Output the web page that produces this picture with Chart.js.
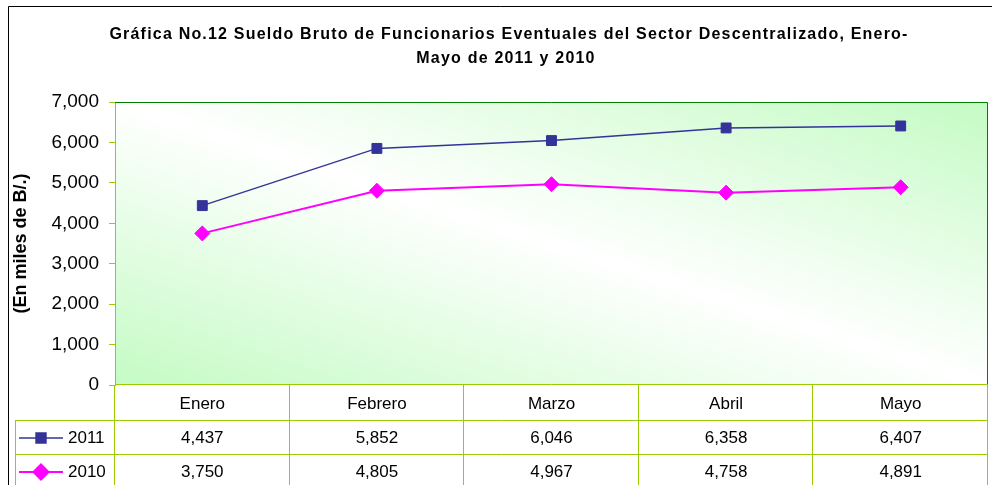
<!DOCTYPE html>
<html>
<head>
<meta charset="utf-8">
<script src="https://cdn.jsdelivr.net/npm/chart.js@4.4.1/dist/chart.umd.min.js"></script>
<style>
  html, body { margin: 0; padding: 0; background: #fff; overflow: hidden; }
  canvas { display: block; }
</style>
</head>
<body>
<canvas id="grafica" width="992" height="485"></canvas>
<script>
const meses = ['Enero', 'Febrero', 'Marzo', 'Abril', 'Mayo'];
const valores2011 = [4437, 5852, 6046, 6358, 6407];
const valores2010 = [3750, 4805, 4967, 4758, 4891];
const ticksY = [0, 1000, 2000, 3000, 4000, 5000, 6000, 7000];
const titulo = ['Gráfica No.12 Sueldo Bruto de Funcionarios Eventuales del Sector Descentralizado, Enero-', 'Mayo de 2011 y 2010'];

const fuente = 'Arial, "Liberation Sans", sans-serif';
Chart.defaults.font.family = fuente;
Chart.defaults.color = '#000';

const verdeTabla = '#99cc00';
const verdeOscuro = '#008000';

function formato(v) {
  return v.toLocaleString('en-US');
}

// fondo degradado, tabla de datos y titulo
const tabla = {
  id: 'tabla',
  beforeDraw(chart) {
    const { ctx, chartArea: a } = chart;
    ctx.save();
    ctx.fillStyle = '#fff';
    ctx.fillRect(0, 0, chart.width, chart.height);
    ctx.translate(a.left, a.top);
    ctx.scale(a.right - a.left, a.bottom - a.top);
    const g = ctx.createLinearGradient(0, 1, 1, 0);
    g.addColorStop(0, '#c4fbc4');
    g.addColorStop(0.5, '#ffffff');
    g.addColorStop(1, '#c4fbc4');
    ctx.fillStyle = g;
    ctx.fillRect(0, 0, 1, 1);
    ctx.restore();
  },
  afterDraw(chart) {
    const { ctx, chartArea: a } = chart;
    const n = meses.length;
    const colW = (a.right - a.left) / n;
    const fila1 = a.bottom + 35;
    const fila2 = a.bottom + 69;
    const fin = chart.height;
    ctx.save();
    ctx.lineWidth = 1;

    // borde del area de grafica
    ctx.strokeStyle = verdeOscuro;
    ctx.beginPath();
    ctx.moveTo(a.left, a.top + 0.5);
    ctx.lineTo(a.right - 0.5, a.top + 0.5);
    ctx.lineTo(a.right - 0.5, a.bottom);
    ctx.stroke();
    ctx.strokeStyle = verdeTabla;
    ctx.beginPath();
    ctx.moveTo(a.left, a.bottom - 0.5);
    ctx.lineTo(a.right, a.bottom - 0.5);
    ctx.stroke();

    // lineas de la tabla
    ctx.strokeStyle = verdeTabla;
    ctx.beginPath();
    for (let i = 0; i <= n; i++) {
      const x = Math.round(a.left + i * colW) - 0.5;
      ctx.moveTo(x, a.bottom);
      ctx.lineTo(x, fin);
    }
    ctx.moveTo(15.5, fila1);
    ctx.lineTo(15.5, fin);
    ctx.moveTo(15, fila1 + 0.5);
    ctx.lineTo(a.right, fila1 + 0.5);
    ctx.moveTo(15, fila2 + 0.5);
    ctx.lineTo(a.right, fila2 + 0.5);
    ctx.stroke();

    // valores
    ctx.fillStyle = '#000';
    ctx.font = '17px ' + fuente;
    ctx.textAlign = 'center';
    ctx.textBaseline = 'middle';
    const xs = chart.scales.x;
    chart.data.datasets.forEach((ds, k) => {
      const yc = (k === 0 ? fila1 : fila2) + 18;
      ds.data.forEach((v, i) => {
        ctx.fillText(formato(v), xs.getPixelForValue(i), yc);
      });
      // simbolo de leyenda
      ctx.strokeStyle = ds.borderColor;
      ctx.lineWidth = ds.borderWidth;
      ctx.beginPath();
      ctx.moveTo(19, yc);
      ctx.lineTo(63, yc);
      ctx.stroke();
      Chart.helpers.drawPoint(ctx, {
        pointStyle: ds.pointStyle,
        radius: ds.pointRadius,
        borderWidth: 1
      }, 41, yc);
      ctx.fillStyle = ds.backgroundColor;
      ctx.strokeStyle = ds.backgroundColor;
      ctx.fill();
      ctx.fillStyle = '#000';
      ctx.textAlign = 'left';
      ctx.fillText(ds.label, 68, yc);
      ctx.textAlign = 'center';
    });

    // borde exterior
    ctx.strokeStyle = '#000';
    ctx.lineWidth = 1;
    ctx.beginPath();
    ctx.moveTo(8.5, fin);
    ctx.lineTo(8.5, 6.5);
    ctx.lineTo(chart.width, 6.5);
    ctx.stroke();

    // titulo
    ctx.font = 'bold 16px ' + fuente;
    ctx.letterSpacing = '1.2px';
    ctx.textBaseline = 'alphabetic';
    ctx.textAlign = 'center';
    ctx.fillText(titulo[0], 509, 39);
    ctx.fillText(titulo[1], 506, 63);
    ctx.restore();
  }
};

new Chart(document.getElementById('grafica'), {
  type: 'line',
  data: {
    labels: meses,
    datasets: [
      {
        label: '2011',
        data: valores2011,
        borderColor: '#333399',
        backgroundColor: '#333399',
        borderWidth: 1.5,
        pointStyle: 'rect',
        pointRadius: 7,
        pointBorderWidth: 1,
        tension: 0
      },
      {
        label: '2010',
        data: valores2010,
        borderColor: '#ff00ff',
        backgroundColor: '#ff00ff',
        borderWidth: 2,
        pointStyle: 'rectRot',
        pointRadius: 7.5,
        pointBorderWidth: 1,
        tension: 0
      }
    ]
  },
  options: {
    responsive: false,
    animation: false,
    layout: { autoPadding: false, padding: { left: 10, right: 4, top: 102, bottom: 65 } },
    plugins: {
      legend: { display: false },
      tooltip: { enabled: false },
      title: { display: false }
    },
    scales: {
      x: {
        offset: true,
        grid: { display: false },
        border: { display: false },
        ticks: { font: { size: 17 }, color: '#000', padding: 1 },
        afterFit(s) {
          s.height = 35;
          s.paddingLeft = 0;
          s.paddingRight = 0;
        }
      },
      y: {
        min: 0,
        max: 7000,
        afterBuildTicks(s) { s.ticks = ticksY.map(v => ({ value: v })); },
        ticks: { font: { size: 19 }, color: '#000', padding: 10, callback: v => formato(v) },
        grid: { drawOnChartArea: false, drawTicks: true, tickLength: 6, color: verdeTabla },
        border: { color: verdeTabla },
        title: {
          display: true,
          text: '(En miles de B/.)',
          font: { size: 18, weight: 'bold' },
          color: '#000',
          padding: 0
        },
        afterFit(s) {
          s.width = 105;
          s.paddingTop = 0;
          s.paddingBottom = 0;
        }
      }
    }
  },
  plugins: [tabla]
});
</script>
</body>
</html>
